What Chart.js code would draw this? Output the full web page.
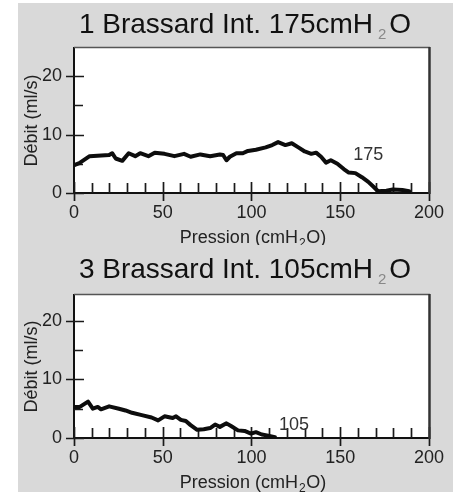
<!DOCTYPE html>
<html>
<head>
<meta charset="utf-8">
<script src="https://cdn.jsdelivr.net/npm/chart.js@4.4.1/dist/chart.umd.min.js"></script>
<style>
body{margin:0;background:#fff;}
#fond{position:absolute;left:18px;top:3px;width:435px;height:489px;background:#d9d9d9;}
canvas{position:absolute;left:0;}
</style>
</head>
<body>
<div id="fond"></div>
<canvas id="brassard1" width="453" height="245" style="top:0"></canvas>
<canvas id="brassard3" width="453" height="247" style="top:245px"></canvas>
<script>
// courbe débit / pression, brassard 1
const pression1 = [0.5, 3, 8.8, 19.8, 21.5, 23.5, 27.2, 30.8, 34.5, 37.3, 41.9, 45.5, 51, 56.6, 62, 65.7, 71.2, 76.7, 82.2, 84, 85.9, 87.8, 91.5, 95.1, 98, 102.5, 108, 111.7, 115, 119.1, 122.7, 126.4, 130, 133.7, 136.4, 139.2, 142, 144.7, 148.4, 152, 154.8, 158.5, 162.2, 165.8, 168.6, 171.3, 176, 179.6, 185, 188.8];
const debit1 = [4.8, 5.1, 6.3, 6.5, 6.8, 5.9, 5.5, 6.8, 6.3, 6.8, 6.3, 6.9, 6.7, 6.3, 6.7, 6.2, 6.6, 6.3, 6.6, 6.5, 5.6, 6.2, 6.8, 6.8, 7.2, 7.4, 7.8, 8.2, 8.7, 8.2, 8.5, 7.8, 7.1, 6.7, 6.9, 6.2, 5.2, 5.6, 5.0, 4.1, 3.5, 3.4, 2.7, 1.9, 1.1, 0.3, 0.4, 0.6, 0.5, 0.3];
// brassard 3
const pression3 = [0.5, 3.3, 7.9, 10.6, 13.4, 15.2, 19.8, 25.3, 29, 32.7, 38.2, 43.7, 47.4, 51, 55.6, 57.5, 60.2, 63, 65.7, 69.4, 73.1, 76.7, 79.5, 82.2, 85.9, 88.7, 92.4, 96.1, 99.7, 102.5, 105.8, 109.4, 113.2];
const debit3 = [5.3, 5.3, 6.2, 5.0, 5.3, 4.9, 5.4, 5.0, 4.7, 4.3, 3.9, 3.5, 3.0, 3.7, 3.4, 3.7, 3.1, 2.9, 2.2, 1.4, 1.5, 1.7, 2.3, 1.9, 2.5, 2.0, 1.3, 1.2, 0.75, 1.0, 0.6, 0.4, 0.15];

const brassards = [1, 3];
const pressionsInt = [175, 105];
const xGraduations = [0, 50, 100, 150, 200];
const yGraduations = [0, 10, 20];

const police = '"Liberation Sans", Arial, Helvetica, sans-serif';

// texte avec indice (H2O)
function texteIndice(ctx, avant, indice, apres, x, y, taille, tailleIndice, couleurIndice, ecart) {
	ctx.font = taille + 'px ' + police;
	const w1 = ctx.measureText(avant).width;
	const w3 = ctx.measureText(apres).width;
	ctx.font = tailleIndice + 'px ' + police;
	const w2 = ctx.measureText(indice).width;
	const total = w1 + ecart + w2 + ecart * 0.6 + w3;
	let x0 = x - total / 2;
	const coul = ctx.fillStyle;
	ctx.textAlign = 'left';
	ctx.textBaseline = 'alphabetic';
	ctx.font = taille + 'px ' + police;
	ctx.fillText(avant, x0, y);
	x0 += w1 + ecart;
	ctx.font = tailleIndice + 'px ' + police;
	ctx.fillStyle = couleurIndice;
	ctx.fillText(indice, x0, y + taille * 0.2);
	ctx.fillStyle = coul;
	x0 += w2 + ecart * 0.6;
	ctx.font = taille + 'px ' + police;
	ctx.fillText(apres, x0, y);
}

const cadre = {
	id: 'cadre',
	beforeDraw(chart) {
		const {ctx, chartArea: a} = chart;
		ctx.save();
		ctx.fillStyle = '#fff';
		ctx.fillRect(a.left, a.top, a.right - a.left, a.bottom - a.top);
		ctx.restore();
	},
	beforeDatasetsDraw(chart) {
		const {ctx, scales: {x, y}} = chart;
		const x0 = x.getPixelForValue(0), y0 = y.getPixelForValue(0);
		ctx.save();
		ctx.strokeStyle = '#1a1a1a';
		ctx.lineWidth = 1.7;
		ctx.beginPath();
		for (let v = 0; v <= 200; v += 10) {
			const px = Math.round(x.getPixelForValue(v)) + 0.5;
			if (v % 50 === 0) { ctx.moveTo(px, y0 - 11); ctx.lineTo(px, y0 + 8); }
			else { ctx.moveTo(px, y0 - 10); ctx.lineTo(px, y0); }
		}
		for (let v = 0; v <= 20; v += 5) {
			const py = Math.round(y.getPixelForValue(v)) + 0.5;
			if (v % 10 === 0) { ctx.moveTo(x0 - 8, py); ctx.lineTo(x0 + 10, py); }
			else { ctx.moveTo(x0, py); ctx.lineTo(x0 + 9, py); }
		}
		ctx.stroke();
		ctx.restore();
	},
	afterDraw(chart, args, opts) {
		const {ctx, chartArea: a, scales: {x, y}} = chart;
		ctx.save();
		// bord haut et bord droit
		ctx.strokeStyle = '#555';
		ctx.lineWidth = 1.5;
		ctx.beginPath();
		ctx.moveTo(a.left, a.top - 0.5);
		ctx.lineTo(a.right + 1, a.top - 0.5);
		ctx.stroke();
		ctx.strokeStyle = '#333';
		ctx.lineWidth = 2.5;
		ctx.beginPath();
		ctx.moveTo(a.right + 0.5, a.top - 1);
		ctx.lineTo(a.right + 0.5, a.bottom + 1);
		ctx.stroke();

		// titre
		ctx.fillStyle = '#111';
		texteIndice(ctx, opts.numero + ' Brassard Int. ' + opts.pression + 'cmH', '2', 'O', 245, 33, 28, 15, '#888', 5);

		// titres des axes
		ctx.fillStyle = '#222';
		texteIndice(ctx, 'Pression (cmH', '2', 'O)', 253, 243, 18, 12, '#222', 1);
		ctx.translate(32, (a.top + a.bottom) / 2);
		ctx.rotate(-Math.PI / 2);
		ctx.font = '18px ' + police;
		ctx.textAlign = 'center';
		ctx.textBaseline = 'middle';
		ctx.fillText('Débit (ml/s)', 0, 0);
		ctx.setTransform(1, 0, 0, 1, 0, 0);

		// pression du brassard près de la courbe
		ctx.font = '18px ' + police;
		ctx.fillStyle = '#333';
		ctx.fillText(String(opts.pression), x.getPixelForValue(opts.etiquette[0]), y.getPixelForValue(opts.etiquette[1]));
		ctx.restore();
	}
};

function creerGraphe(id, pression, debit, numero, cuff, yMax, haut, etiquette) {
	const cv = document.getElementById(id);
	return new Chart(cv, {
		type: 'line',
		data: {datasets: [{
			data: pression.map((p, i) => ({x: p, y: debit[i]})),
			borderColor: '#0d0d0d', borderWidth: 4, pointRadius: 0, tension: 0,
			borderJoinStyle: 'round', borderCapStyle: 'round'
		}]},
		options: {
			responsive: false, animation: false,
			layout: {padding: {top: haut, right: 16, left: 0, bottom: 0}},
			plugins: {legend: {display: false}, tooltip: {enabled: false},
				cadre: {numero: numero, pression: cuff, etiquette: etiquette}},
			scales: {
				x: {type: 'linear', min: 0, max: 200,
					afterFit: s => { s.height = cv.height - 193; },
					grid: {display: false, drawTicks: false},
					border: {display: true, color: '#111', width: 2},
					ticks: {stepSize: 10, autoSkip: false, maxRotation: 0, padding: 9, color: '#222',
						font: {size: 18, family: police},
						callback: v => xGraduations.includes(v) ? v : ''}},
				y: {min: 0, max: yMax,
					afterFit: s => { s.width = 74; },
					grid: {display: false, drawTicks: false},
					border: {display: true, color: '#111', width: 2},
					ticks: {stepSize: 5, includeBounds: false, padding: 12, color: '#222',
						font: {size: 18, family: police},
						callback: v => yGraduations.includes(v) ? v : ''}}
			}
		},
		plugins: [cadre]
	});
}

creerGraphe('brassard1', pression1, debit1, brassards[0], pressionsInt[0], 24.8, 48, [165.8, 6.5]);
creerGraphe('brassard3', pression3, debit3, brassards[1], pressionsInt[1], 24.4, 50, [124, 2.2]);
</script>
</body>
</html>
